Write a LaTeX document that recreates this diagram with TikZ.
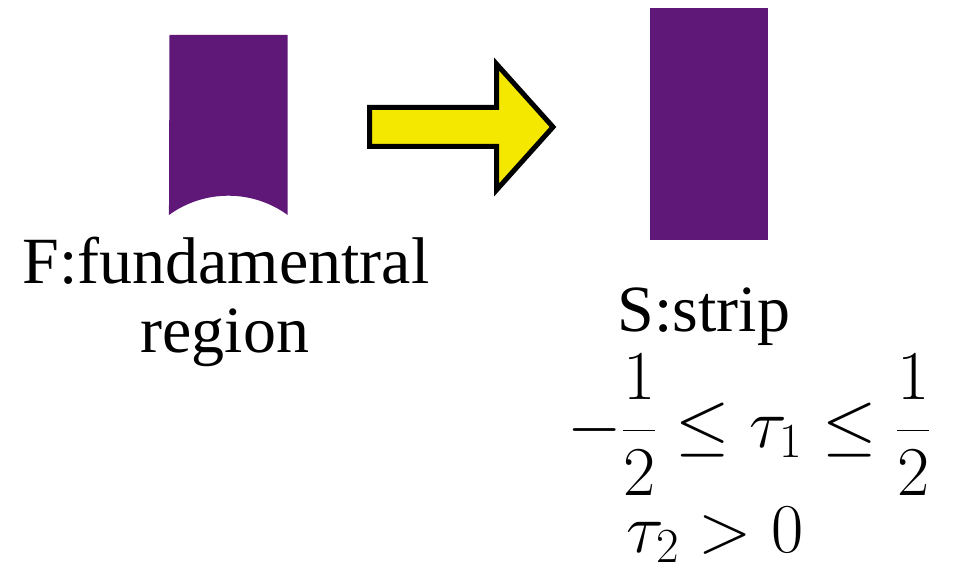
\RequirePackage{fix-cm}
\documentclass[tikz,border=0pt]{standalone}
\usepackage{fontspec}
\setmainfont{Liberation Serif}
\newfontfamily\timesface{Liberation Serif}
\definecolor{regionpurple}{RGB}{95,24,120}
\definecolor{arrowyellow}{RGB}{245,232,0}
\tikzset{
  region/.style={fill=regionpurple, draw=none},
  bigtext/.style={inner sep=0pt, anchor=base, font=\timesface\fontsize{66}{79}\selectfont},
  mathtext/.style={inner sep=0pt, anchor=base, font=\fontsize{70}{84}\selectfont},
  fatarrow/.style={fill=arrowyellow, draw=black, line width=5pt, line join=miter}
}
\begin{document}
\begin{tikzpicture}[x=1pt,y=-1pt]
\useasboundingbox (0,0) rectangle (966,564);
% fundamental region
\path[region] (169.5,35) -- (287.7,35) -- (287.7,215)
  arc[start angle=-54, end angle=-126, radius=101] -- cycle;
% strip
\path[region] (650,8) rectangle (768,240);
% arrow
\path[fatarrow] (369.5,107.5) -- (496.5,107.5) -- (496.5,64) -- (553,127)
  -- (496.5,190) -- (496.5,146.5) -- (369.5,146.5) -- cycle;
% labels
\node[bigtext] (f1) at (226,283) {F:fundamentral};
\node[bigtext] (f2) at (225,352) {region};
\node[bigtext] (s1) at (704,331) {S:strip};
\node[mathtext, anchor=center] (m1) at (749,425) {$\displaystyle -\frac{1}{2}\le\tau_1\le\frac{1}{2}$};
\node[mathtext] (m2) at (715,552) {$\tau_2>0$};
\end{tikzpicture}
\end{document}
